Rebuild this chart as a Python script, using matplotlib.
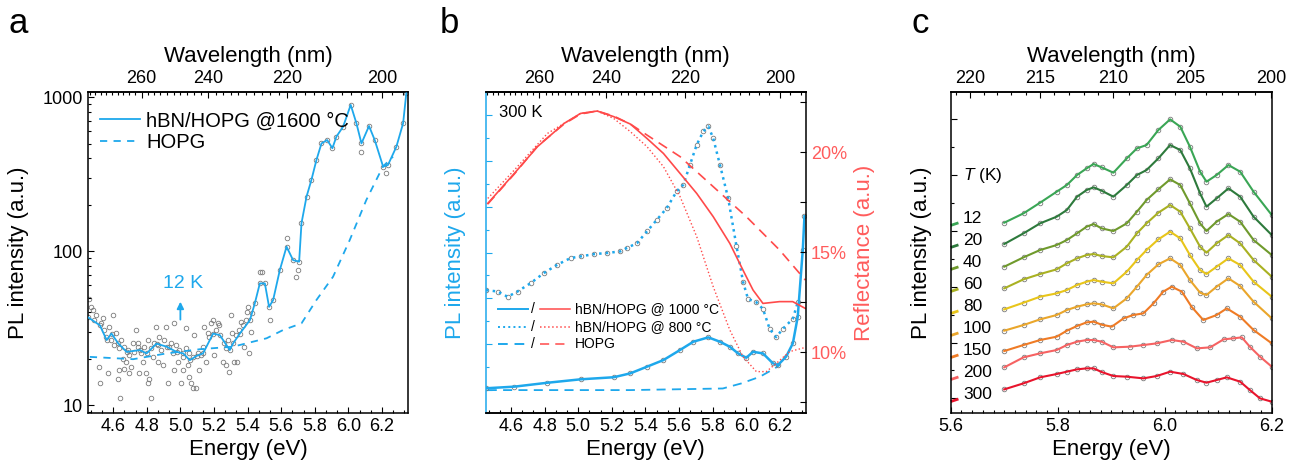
import numpy as np
import matplotlib
matplotlib.use('Agg')
import matplotlib.pyplot as plt
from matplotlib.ticker import MultipleLocator, AutoMinorLocator, LogLocator, NullFormatter

plt.rcParams['font.family'] = ['Liberation Sans', 'DejaVu Sans']
plt.rcParams['mathtext.fontset'] = 'custom'
plt.rcParams['mathtext.it'] = 'Liberation Sans:italic'
plt.rcParams['mathtext.rm'] = 'Liberation Sans'

HC = 1239.84
BLUE = '#1ea8ec'
RED = '#ff4a4a'
RED_TXT = '#ff5c5c'
GRAY = '#7a7a7a'
TICK_FS = 13
LAB_FS = 16

# ---------------- panel a : 12 K PL (log)
a_fit_E = [4.451, 4.521, 4.561, 4.590, 4.630, 4.680, 4.759, 4.799, 4.858, 4.918, 4.977, 5.017, 5.056,
           5.096, 5.135, 5.195, 5.235, 5.294, 5.314, 5.354, 5.414, 5.443, 5.473, 5.503, 5.528, 5.552,
           5.592, 5.632, 5.671, 5.707, 5.721, 5.751, 5.780, 5.810, 5.840, 5.874, 5.905, 5.929, 5.969,
           6.014, 6.048, 6.078, 6.123, 6.157, 6.207, 6.236, 6.286, 6.326, 6.345]
a_fit_I = [37.2, 33.0, 26.5, 29.2, 25.2, 22.2, 22.8, 21.7, 25.1, 24.0, 22.2, 21.7, 19.6,
           20.9, 21.7, 29.2, 28.5, 22.8, 25.2, 29.2, 35.7, 45.8, 61.8, 61.8, 43.5, 48.1,
           75.4, 107, 87.5, 85.5, 152, 226, 290, 391, 501, 527, 466, 555, 644,
           891, 677, 501, 650, 527, 354, 363, 477, 677, 1059]
a_hopg_E = [4.461, 4.719, 4.918, 5.116, 5.314, 5.513, 5.612, 5.721, 5.810, 5.909, 6.008, 6.107, 6.206, 6.266]
a_hopg_I = [20.6, 19.9, 21.7, 23.1, 24.0, 27.2, 30.8, 34.0, 48.2, 68.3, 118, 215, 355, 411]
a_pts_E = [4.454, 4.468, 4.497, 4.521, 4.513, 4.567, 4.597, 4.607, 4.626, 4.640, 4.636, 4.656, 4.666,
           4.676, 4.696, 4.706, 4.735, 4.745, 4.755, 4.775, 4.795, 4.805, 4.815, 4.825, 4.835, 4.854,
           4.864, 4.874, 4.894, 4.914, 4.924, 4.944, 4.963, 4.963, 4.983, 5.003, 5.013, 5.033, 5.043,
           5.053, 5.063, 5.073, 5.082, 5.092, 5.112, 5.122, 5.142, 5.152, 5.172, 5.192, 5.201, 5.221,
           5.251, 5.261, 5.271, 5.291, 5.301, 5.310, 5.320, 5.340, 5.360, 5.380, 5.400, 5.410, 5.420,
           4.478, 4.488, 4.527, 4.537, 4.547, 4.557, 4.577, 4.587, 4.616, 4.636, 4.646, 4.666, 4.686,
           4.696, 4.716, 4.726, 4.745, 4.765, 4.785, 4.805, 4.825, 4.845, 4.864, 4.884, 4.904, 4.934,
           4.954, 4.973, 4.993, 5.013, 5.033, 5.053, 5.073, 5.102, 5.132, 5.162, 5.182, 5.211, 5.231,
           5.271, 5.281, 5.330, 5.350, 5.370, 5.390, 5.429,
           5.536, 5.691, 6.078, 6.227, 5.632, 5.701, 5.473, 5.483, 5.394]
a_pts_I = [48.6, 43.2, 38.5, 13.9, 17.8, 16.1, 38.5, 24.6, 14.9, 11.1, 16.9, 20.1, 17.3,
           19.2, 16.1, 17.8, 30.8, 25.2, 16.1, 19.2, 16.1, 13.9, 14.9, 11.1, 20.7, 32.3,
           19.2, 27.9, 18.2, 32.3, 13.9, 25.2, 34.0, 16.9, 19.2, 13.9, 16.9, 31.5, 18.2,
           15.3, 13.9, 12.9, 28.6, 12.9, 16.9, 21.2, 32.3, 19.2, 27.9, 35.7, 21.2, 34.0,
           19.2, 25.2, 18.2, 16.5, 38.5, 29.3, 19.2, 19.2, 34.9, 24.0, 43.2, 21.7, 30.0,
           41.5, 35.7, 34.0, 36.6, 30.8, 27.9, 32.3, 26.5, 29.3, 23.4, 26.5, 24.0, 22.8,
           21.2, 25.2, 22.2, 24.0, 21.7, 24.0, 26.5, 23.4, 25.2, 24.6, 22.8, 26.5, 24.0,
           21.7, 24.6, 22.8, 20.7, 23.4, 21.7, 20.7, 21.7, 24.0, 29.3, 34.0, 30.8, 33.2,
           23.4, 26.5, 28.6, 30.8, 33.2, 35.7, 39.5,
           35.7, 68.2, 443, 321, 121, 75.3, 73.6, 73.6, 40.5]

# ---------------- panel b : 300 K PL (a.u.) + reflectance (%)
b_pl800_E = [4.452, 4.521, 4.580, 4.639, 4.718, 4.797, 4.876, 4.955, 5.014, 5.093, 5.172, 5.251, 5.290,
             5.350, 5.409, 5.468, 5.527, 5.586, 5.626, 5.665, 5.705, 5.744, 5.774, 5.803, 5.843, 5.892,
             5.941, 5.981, 6.010, 6.060, 6.099, 6.139, 6.178, 6.217, 6.277, 6.306]
b_pl800 = [5.36, 5.30, 5.07, 5.30, 5.67, 6.11, 6.47, 6.76, 6.83, 6.93, 6.98, 7.05, 7.20,
           7.41, 7.92, 8.43, 8.94, 9.67, 9.96, 10.83, 11.70, 12.28, 12.50, 11.99, 10.83, 9.37,
           7.30, 5.71, 4.98, 4.83, 4.54, 3.67, 3.31, 3.67, 4.11, 4.83]
b_pl1000_E = [4.452, 4.620, 4.817, 5.014, 5.211, 5.310, 5.409, 5.507, 5.606, 5.685, 5.774, 5.843,
              5.902, 5.951, 6.000, 6.040, 6.099, 6.158, 6.188, 6.237, 6.277, 6.306, 6.336, 6.346]
b_pl1000 = [1.08, 1.15, 1.32, 1.47, 1.56, 1.73, 2.02, 2.31, 2.75, 3.11, 3.30, 3.11,
            2.89, 2.60, 2.41, 2.67, 2.60, 2.17, 2.09, 2.46, 3.04, 4.20, 7.12, 8.58]
b_plhopg_E = [4.462, 5.31, 5.86, 5.97, 6.08, 6.17, 6.20]
b_plhopg = [1.00, 1.00, 1.07, 1.29, 1.58, 1.95, 2.10]

b_r1000_E = [4.462, 4.620, 4.758, 4.916, 5.014, 5.113, 5.211, 5.310, 5.409, 5.507, 5.606, 5.705,
             5.803, 5.902, 5.980, 6.040, 6.099, 6.198, 6.276, 6.351]
b_r1000 = [17.43, 18.93, 20.27, 21.43, 21.93, 22.05, 21.77, 21.4, 20.68, 19.93, 18.93, 17.93,
           16.77, 15.43, 14.1, 13.1, 12.43, 12.52, 12.52, 12.18]
b_r800_E = [4.462, 4.620, 4.817, 5.014, 5.113, 5.211, 5.310, 5.409, 5.507, 5.606, 5.705, 5.803,
            5.902, 5.980, 6.060, 6.119, 6.178, 6.257, 6.351]
b_r800 = [17.68, 19.1, 20.93, 21.93, 22.05, 21.68, 21.02, 20.27, 19.27, 17.77, 15.77, 13.27,
          11.1, 9.77, 9.02, 9.02, 9.43, 10.02, 10.23]
b_rhopg_E = [4.462, 4.620, 4.758, 4.916, 5.014, 5.113, 5.211, 5.310, 5.409, 5.606, 5.803, 6.000, 6.198, 6.351]
b_rhopg = [17.4, 18.9, 20.3, 21.4, 21.9, 22.05, 21.8, 21.4, 20.85, 19.77, 18.27, 16.77, 15.1, 13.6]

# ---------------- panel c : temperature series (stacked, a.u.)
c_temps = ['12', '20', '40', '60', '80', '100', '150', '200', '300']
c_colors = ['#3aa655', '#2d7a3c', '#6f9a2c', '#a9b122', '#e8c51a', '#eaa62b', '#ef7b25', '#f66262', '#e8142c']
c_E_low = [5.70, 5.736, 5.767, 5.798, 5.817, 5.836, 5.854, 5.867, 5.882, 5.904, 5.929, 5.948, 5.966,
           5.988, 6.010, 6.029, 6.047, 6.066, 6.078, 6.097, 6.119, 6.141, 6.166, 6.20]
c_E_150 = [5.70, 5.736, 5.767, 5.798, 5.817, 5.836, 5.854, 5.867, 5.882, 5.901, 5.923, 5.941, 5.960,
           5.979, 5.997, 6.013, 6.032, 6.050, 6.072, 6.097, 6.116, 6.141, 6.166, 6.20]
c_E_200 = [5.70, 5.736, 5.767, 5.798, 5.817, 5.836, 5.854, 5.867, 5.882, 5.904, 5.935, 5.960, 5.985,
           6.013, 6.035, 6.060, 6.085, 6.110, 6.128, 6.144, 6.159, 6.178, 6.20]
c_E_300 = [5.70, 5.736, 5.767, 5.798, 5.817, 5.836, 5.854, 5.867, 5.882, 5.904, 5.929, 5.960, 5.985,
           6.010, 6.035, 6.060, 6.078, 6.097, 6.116, 6.141, 6.159, 6.178, 6.20]
c_pl12 = [532, 560, 592, 625, 645, 675, 695, 708, 698, 682, 725, 755, 765, 810, 842, 820, 760, 685, 655, 675, 705, 685, 625, 555]
c_pl20 = [468, 500, 530, 550, 570, 610, 630, 638, 628, 610, 645, 675, 690, 725, 765, 750, 695, 620, 580, 605, 635, 610, 550, 495]
c_pl40 = [400, 428, 450, 465, 480, 500, 520, 528, 515, 507, 530, 565, 600, 632, 662, 645, 590, 530, 507, 535, 558, 535, 480, 435]
c_pl60 = [335, 362, 378, 392, 410, 425, 435, 438, 432, 428, 460, 500, 530, 562, 585, 565, 515, 460, 442, 470, 495, 470, 420, 370]
c_pl80 = [272, 292, 310, 320, 330, 345, 355, 360, 355, 350, 385, 420, 450, 482, 505, 485, 435, 390, 378, 400, 425, 405, 355, 310]
c_pl100 = [208, 225, 242, 255, 270, 280, 287, 290, 287, 275, 305, 340, 375, 407, 425, 405, 360, 322, 315, 340, 365, 342, 295, 245]
c_pl150 = [147, 165, 180, 190, 208, 222, 233, 235, 226, 220, 245, 255, 260, 290, 325, 340, 325, 280, 240, 255, 275, 250, 210, 170]
c_pl200 = [98, 128, 140, 150, 165, 175, 180, 180, 175, 158, 160, 165, 170, 180, 175, 155, 158, 182, 185, 188, 160, 130, 100]
c_pl300 = [32, 50, 68, 78, 85, 92, 95, 95, 84, 72, 70, 65, 72, 85, 78, 60, 52, 60, 68, 55, 30, 5, -5]


def e2nm(x):
    x = np.asarray(x, dtype=float)
    out = np.full_like(x, 1e9)
    np.divide(HC, x, out=out, where=x != 0)
    return out


def style(ax):
    for s in ax.spines.values():
        s.set_linewidth(1.1)
    ax.tick_params(which='both', direction='in', top=False, right=False, labelsize=TICK_FS, width=0.8)
    ax.tick_params(which='major', length=4)
    ax.tick_params(which='minor', length=2.2)


def top_axis(ax, ticks, minor):
    sec = ax.secondary_xaxis('top', functions=(e2nm, e2nm))
    sec.set_xticks(ticks)
    sec.set_xticklabels([str(t) for t in ticks])
    sec.xaxis.set_minor_locator(MultipleLocator(minor))
    sec.tick_params(which='both', direction='in', labelsize=TICK_FS, width=0.8)
    sec.tick_params(which='major', length=4)
    sec.tick_params(which='minor', length=2.2)
    sec.spines['top'].set_linewidth(1.1)
    sec.set_xlabel('Wavelength (nm)', fontsize=LAB_FS, labelpad=6)
    return sec


fig = plt.figure(figsize=(12.96, 4.71), dpi=100)
ax_a = fig.add_axes([0.0679, 0.1231, 0.2469, 0.6815])
ax_b = fig.add_axes([0.3748, 0.1231, 0.2471, 0.6815])
ax_c = fig.add_axes([0.7336, 0.1231, 0.2477, 0.6815])

circ = dict(ls='none', marker='o', mfc='none', mec=GRAY, ms=3.3, mew=0.6)

# ---- a
ax_a.plot(a_pts_E, a_pts_I, zorder=1, **circ)
ax_a.plot(a_fit_E, a_fit_I, zorder=1, **circ)
ax_a.plot(a_fit_E, a_fit_I, '-', color=BLUE, lw=1.3, label='hBN/HOPG @1600 °C', zorder=3)
ax_a.plot(a_hopg_E, a_hopg_I, '--', color=BLUE, lw=1.3, dashes=(4, 3.5), label='HOPG', zorder=2)
ax_a.set_yscale('log')
ax_a.set_xlim(4.45, 6.355)
ax_a.set_ylim(8.9, 1080)
style(ax_a)
ax_a.set_yticks([10, 100, 1000])
ax_a.set_yticklabels(['10', '100', '1000'])
ax_a.yaxis.set_minor_locator(LogLocator(base=10, subs=np.arange(2, 10)))
ax_a.yaxis.set_minor_formatter(NullFormatter())
ax_a.xaxis.set_major_locator(MultipleLocator(0.2))
ax_a.xaxis.set_minor_locator(AutoMinorLocator(3))
ax_a.set_xlabel('Energy (eV)', fontsize=LAB_FS, labelpad=3)
ax_a.set_ylabel('PL intensity (a.u.)', fontsize=LAB_FS, labelpad=10)
top_axis(ax_a, [260, 240, 220, 200], 2)
ax_a.legend(loc='upper left', bbox_to_anchor=(0.012, 0.965), borderaxespad=0, frameon=False,
            fontsize=14.5, handlelength=2.0, handletextpad=0.3, labelspacing=0.15)
ax_a.annotate('', xy=(5.0, 49), xytext=(5.0, 34.5),
              arrowprops=dict(arrowstyle='-|>', color=BLUE, lw=1.3, mutation_scale=10))
ax_a.text(5.017, 61.7, '12 K', color=BLUE, fontsize=14, ha='center', va='center')

# ---- b
ax_b.plot(b_plhopg_E, b_plhopg, '--', color=BLUE, lw=1.3, dashes=(5, 3.5))
ax_b.plot(b_pl800_E, b_pl800, **circ)
ax_b.plot(b_pl1000_E, b_pl1000, **circ)
ax_b.plot(b_pl800_E, b_pl800, ':', color=BLUE, lw=1.8)
ax_b.plot(b_pl1000_E, b_pl1000, '-', color=BLUE, lw=1.8)
ax_b.set_xlim(4.45, 6.355)
ax_b.set_ylim(0, 14.0)
style(ax_b)
ax_b.xaxis.set_major_locator(MultipleLocator(0.2))
ax_b.xaxis.set_minor_locator(AutoMinorLocator(3))
ax_b.yaxis.set_major_locator(MultipleLocator(2, offset=1))
ax_b.yaxis.set_minor_locator(MultipleLocator(2))
ax_b.tick_params(axis='y', which='both', labelleft=False, color=BLUE)
ax_b.spines['left'].set_color(BLUE)
ax_b.spines['right'].set_visible(False)
ax_b.set_xlabel('Energy (eV)', fontsize=LAB_FS, labelpad=3)
ax_b.set_ylabel('PL intensity (a.u.)', fontsize=LAB_FS, color=BLUE, labelpad=14)
top_axis(ax_b, [260, 240, 220, 200], 2)
ax_b.text(0.042, 0.935, '300 K', transform=ax_b.transAxes, fontsize=12, va='center')

ax_r = ax_b.twinx()
ax_r.plot(b_rhopg_E, b_rhopg, '--', color=RED, lw=1.2, dashes=(6, 4))
ax_r.plot(b_r800_E, b_r800, ':', color=RED, lw=1.0)
ax_r.plot(b_r1000_E, b_r1000, '-', color=RED, lw=1.2)
ax_r.set_ylim(6.95, 23.0)
ax_r.set_yticks([10, 15, 20])
ax_r.set_yticklabels(['10%', '15%', '20%'])
ax_r.yaxis.set_minor_locator(MultipleLocator(2.5))
ax_r.tick_params(axis='y', which='both', direction='in', labelsize=TICK_FS, labelcolor=RED_TXT, width=0.8)
ax_r.tick_params(axis='y', which='major', length=4)
ax_r.tick_params(axis='y', which='minor', length=4)
ax_r.spines['left'].set_visible(False)
ax_r.spines['right'].set_linewidth(1.1)
ax_r.spines['top'].set_linewidth(1.1)
ax_r.spines['bottom'].set_linewidth(1.1)
ax_r.set_ylabel('Reflectance (a.u.)', fontsize=LAB_FS, color=RED_TXT, labelpad=5)

# b legend: blue / red handle pairs
leg_styles = ['-', ':', '--']
leg_labels = ['hBN/HOPG @ 1000 °C', 'hBN/HOPG @ 800 °C', 'HOPG']
for i, (ls, lab) in enumerate(zip(leg_styles, leg_labels)):
    yy = 0.323 - i * 0.054
    hb, = ax_b.plot([0.038, 0.132], [yy, yy], ls, color=BLUE, lw=1.4, transform=ax_b.transAxes)
    hr, = ax_b.plot([0.17, 0.263], [yy, yy], ls, color=RED, lw=1.1, transform=ax_b.transAxes)
    if ls == '--':
        hb.set_dashes((5, 3.5))
        hr.set_dashes((6, 4))
    ax_b.text(0.147, yy, '/', transform=ax_b.transAxes, fontsize=10, ha='center', va='center')
    ax_b.text(0.279, yy, lab, transform=ax_b.transAxes, fontsize=10, va='center')

# ---- c
c_series = [(c_E_low, c_pl12), (c_E_low, c_pl20), (c_E_low, c_pl40), (c_E_low, c_pl60),
            (c_E_low, c_pl80), (c_E_low, c_pl100), (c_E_150, c_pl150), (c_E_200, c_pl200),
            (c_E_300, c_pl300)]
for (ex, vals), col in zip(c_series, c_colors):
    ax_c.plot(ex, vals, zorder=1, **circ)
    ax_c.plot(ex, vals, '-', color=col, lw=1.5, zorder=2)
ax_c.set_xlim(5.6, 6.2)
ax_c.set_ylim(-39, 924)
style(ax_c)
ax_c.set_xticks([5.6, 5.8, 6.0, 6.2])
ax_c.xaxis.set_minor_locator(MultipleLocator(0.02))
ax_c.yaxis.set_major_locator(MultipleLocator(167.4, offset=5.1))
ax_c.yaxis.set_minor_locator(MultipleLocator(83.7, offset=5.1))
ax_c.tick_params(axis='y', labelleft=False)
ax_c.set_xlabel('Energy (eV)', fontsize=LAB_FS, labelpad=3)
ax_c.set_ylabel('PL intensity (a.u.)', fontsize=LAB_FS, labelpad=10)
top_axis(ax_c, [220, 215, 210, 205, 200], 1)
ax_c.text(0.038, 0.741, '$T$ (K)', transform=ax_c.transAxes, fontsize=12.5, va='center')
for i, (t, col) in enumerate(zip(c_temps, c_colors)):
    yy = 0.6065 - i * 0.0686
    ax_c.plot([0.0, 0.024], [yy - 0.022, yy - 0.014], color=col, lw=2, transform=ax_c.transAxes,
              solid_capstyle='butt', clip_on=False)
    ax_c.text(0.038, yy, t, transform=ax_c.transAxes, fontsize=12.5, va='center')

# panel letters
fig.text(0.0062, 0.930, 'a', fontsize=25, va='baseline')
fig.text(0.3395, 0.930, 'b', fontsize=25, va='baseline')
fig.text(0.7035, 0.930, 'c', fontsize=25, va='baseline')

fig.savefig('out.png', dpi=100)
